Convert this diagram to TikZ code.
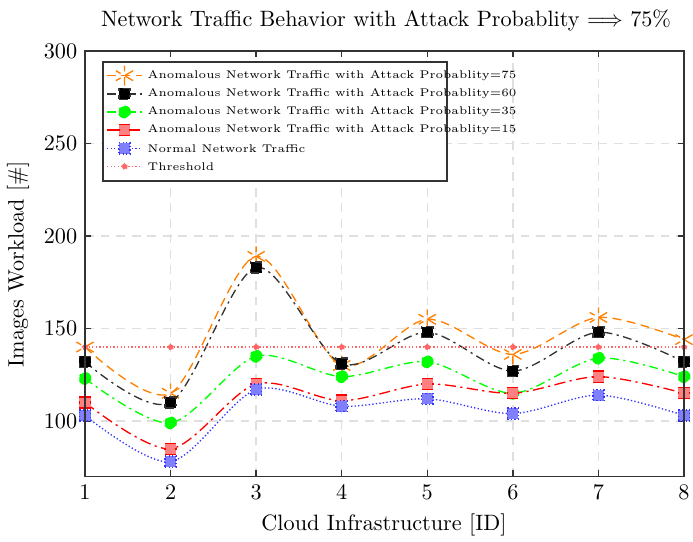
\documentclass[tikz,border=0pt]{standalone}
\usetikzlibrary{plotmarks}

\begin{document}
\begin{tikzpicture}[x=0.45pt, y=-0.45pt]
  \useasboundingbox (0,0) rectangle (693,541);

  \tikzstyle{axisline}=[line width=0.6pt, black!80]
  \tikzstyle{gridline}=[line width=0.6pt, gray!25, dash pattern=on 4pt off 3pt]
  \tikzstyle{attack75}=[line width=0.6pt, orange, dash pattern=on 4pt off 2.5pt, mark=asterisk, mark size=4.5pt]
  \tikzstyle{attack60}=[line width=0.6pt, black!80, dash pattern=on 4pt off 2pt on 1pt off 2pt, mark=square*, mark size=2.5pt, mark options={fill=black}]
  \tikzstyle{attack35}=[line width=0.6pt, green, dash pattern=on 4pt off 2pt on 1pt off 2pt, mark=*, mark size=2.6pt, mark options={fill=green}]
  \tikzstyle{attack15}=[line width=0.6pt, red, dash pattern=on 5pt off 2pt on 1pt off 2pt, mark=square*, mark size=2.5pt, mark options={fill=red!50}]
  \tikzstyle{normaltraffic}=[line width=0.6pt, blue!80, densely dotted, mark=square*, mark size=2.5pt, mark options={fill=blue!50}]
  \tikzstyle{thresholdline}=[line width=0.6pt, red!60, densely dotted, mark=*, mark size=1.2pt, mark options={fill=red!60}]

  % title and axis labels
  \node (title) at (386,20) {Network Traffic Behavior with Attack Probablity $\Longrightarrow$ 75\%};
  \node (xlabel) at (384,525) {Cloud Infrastructure [ID]};
  \node[rotate=90] (ylabel) at (18,264) {Images Workload [\#]};

  \begin{scope}[shift={(-0.2565pt,-272.7pt)}, x=38.5065pt, y=0.8325pt]
    % grid
    \foreach \i in {2,...,7}
      \draw[gridline] (\i,70) -- (\i,300);
    \foreach \v in {100,150,200,250}
      \draw[gridline] (1,\v) -- (8,\v);

    % ticks and tick labels
    \foreach \i in {1,...,8}
      {
        \draw[axisline] (\i,70) -- ++(0pt,2.85pt);
        \draw[axisline] (\i,300) -- ++(0pt,-2.85pt);
        \node[below] (xt\i) at (\i,70) {\i};
      }
    \foreach \v in {100,150,...,300}
      {
        \draw[axisline] (1,\v) -- ++(2.85pt,0pt);
        \draw[axisline] (8,\v) -- ++(-2.85pt,0pt);
        \node[left] (yt\v) at (1,\v) {\v};
      }

    % measured series
    \draw[attack75] plot[smooth] coordinates {(1,140) (2,115) (3,189) (4,130) (5,155) (6,136) (7,156) (8,144)};
    \draw[attack60] plot[smooth] coordinates {(1,132) (2,110) (3,183) (4,131) (5,148) (6,127) (7,148) (8,132)};
    \draw[attack35] plot[smooth] coordinates {(1,123) (2,99) (3,135) (4,124) (5,132) (6,115) (7,134) (8,124)};
    \draw[attack15] plot[smooth] coordinates {(1,110) (2,85) (3,120) (4,111) (5,120) (6,115) (7,124) (8,115)};
    \draw[normaltraffic] plot[smooth] coordinates {(1,103) (2,78) (3,117) (4,108) (5,112) (6,104) (7,114) (8,103)};
    \draw[thresholdline] plot coordinates {(1,140) (2,140) (3,140) (4,140) (5,140) (6,140) (7,140) (8,140)};

    \draw[axisline] (1,70) rectangle (8,300);
  \end{scope}

  % legend
  \draw[line width=0.6pt, black!80, fill=white] (103,62) rectangle (447,181);
  \foreach \sty/\txt [count=\k] in {attack75/Anomalous Network Traffic with Attack Probablity=75,
                                     attack60/Anomalous Network Traffic with Attack Probablity=60,
                                     attack35/Anomalous Network Traffic with Attack Probablity=35,
                                     attack15/Anomalous Network Traffic with Attack Probablity=15,
                                     normaltraffic/Normal Network Traffic,
                                     thresholdline/Threshold}
    {
      \pgfmathsetmacro{\rowy}{75.7 + (\k-1) * 18.15}
      \draw[\sty, mark indices={2}] plot coordinates {(107,\rowy) (124.5,\rowy) (142,\rowy)};
      \node[anchor=west, font=\tiny, inner sep=1pt] (leg\k) at (145,\rowy) {\txt};
    }
\end{tikzpicture}
\end{document}
